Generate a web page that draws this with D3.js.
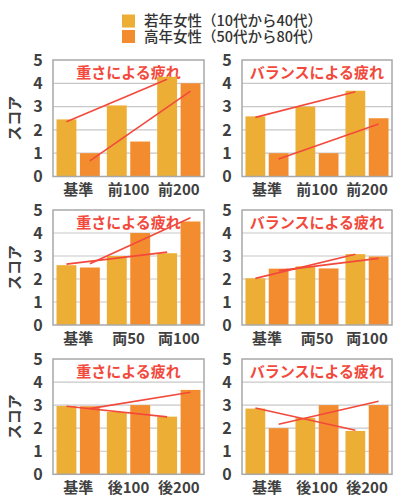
<!DOCTYPE html>
<html><head><meta charset="utf-8">
<script src="https://cdn.jsdelivr.net/npm/d3@7"></script>
<style>
html,body{margin:0;padding:0;background:#fff;}
svg{display:block;font-family:"Noto Sans CJK JP","Noto Sans",sans-serif;}
</style></head>
<body><svg id="c" width="395" height="495"></svg>
<script>
const seriesNames = ["若年女性（10代から40代）", "高年女性（50代から80代）"];
const seriesColors = ["#ECAE34", "#F38C2E"];
const panelTitles = ["重さによる疲れ", "バランスによる疲れ", "重さによる疲れ", "バランスによる疲れ", "重さによる疲れ", "バランスによる疲れ"];
const categoriesFront = ["基準", "前100", "前200"];
const categoriesBoth = ["基準", "両50", "両100"];
const categoriesBack = ["基準", "後100", "後200"];
const yTicks = [0, 1, 2, 3, 4, 5];
const yTitle = "スコア";
// values: [young, old] per panel
const weightFrontYoung = [2.45, 3.05, 4.28];
const weightFrontOld = [1.0, 1.5, 4.0];
const balanceFrontYoung = [2.58, 3.0, 3.68];
const balanceFrontOld = [1.0, 1.0, 2.5];
const weightBothYoung = [2.6, 3.0, 3.12];
const weightBothOld = [2.5, 4.0, 4.5];
const balanceBothYoung = [2.03, 2.55, 3.08];
const balanceBothOld = [2.45, 2.46, 2.98];
const weightBackYoung = [2.96, 2.7, 2.5];
const weightBackOld = [2.95, 3.0, 3.66];
const balanceBackYoung = [2.85, 2.45, 1.88];
const balanceBackOld = [2.0, 3.0, 3.0];

const panels = [
  {cats: categoriesFront, young: weightFrontYoung, old: weightFrontOld},
  {cats: categoriesFront, young: balanceFrontYoung, old: balanceFrontOld},
  {cats: categoriesBoth, young: weightBothYoung, old: weightBothOld},
  {cats: categoriesBoth, young: balanceBothYoung, old: balanceBothOld},
  {cats: categoriesBack, young: weightBackYoung, old: weightBackOld},
  {cats: categoriesBack, young: balanceBackYoung, old: balanceBackOld}
];

const colX = [[53, 204], [242, 392]];
const rowY = [[60, 176.5], [210, 325], [359, 474.3]];
const svg = d3.select("#c");
const red = "#F2493C";
const textCol = "#404040";

// legend
const lg = svg.append("g");
seriesNames.forEach((n, i) => {
  lg.append("rect").attr("x", 122).attr("y", 14.5 + i * 15.5).attr("width", 13).attr("height", 13)
    .attr("fill", seriesColors[i]);
  lg.append("text").attr("x", 144).attr("y", 21 + i * 15.5).attr("dy", "0.35em")
    .attr("font-size", 14.5).attr("font-weight", 500).attr("fill", "#333").text(n);
});

function linreg(vals) {
  const n = vals.length, xs = d3.range(n);
  const mx = d3.mean(xs), my = d3.mean(vals);
  const b = d3.sum(xs, (x, i) => (x - mx) * (vals[i] - my)) / d3.sum(xs, x => (x - mx) ** 2);
  const a = my - b * mx;
  return [a, a + b * (n - 1)];
}

panels.forEach((p, idx) => {
  const col = idx % 2, row = Math.floor(idx / 2);
  const [x0, x1] = colX[col], [yTop, yBot] = rowY[row];
  const g = svg.append("g");
  const x = d3.scaleBand().domain(p.cats).range([x0, x1]).padding(0);
  const xi = d3.scaleBand().domain([0, 1]).range([0, x.bandwidth()]).paddingInner(0.15).paddingOuter(0.15);
  const y = d3.scaleLinear().domain([0, 5]).range([yBot, yTop]);

  // gridlines
  g.append("g").selectAll("line").data(yTicks.slice(1, -1)).join("line")
    .attr("x1", x0).attr("x2", x1).attr("y1", d => y(d)).attr("y2", d => y(d))
    .attr("stroke", "#c8c8c8").attr("stroke-width", 1.2);

  // title
  g.append("text").attr("x", (x0 + x1) / 2).attr("y", yTop + 13).attr("dy", "0.36em")
    .attr("text-anchor", "middle").attr("font-size", 15).attr("font-weight", "bold")
    .attr("fill", red).text(panelTitles[idx]);

  // bars
  [p.young, p.old].forEach((vals, s) => {
    g.append("g").selectAll("rect").data(vals).join("rect")
      .attr("x", (d, i) => x(p.cats[i]) + xi(s)).attr("width", xi.bandwidth())
      .attr("y", d => y(d)).attr("height", d => yBot - y(d))
      .attr("fill", seriesColors[s]);
  });

  // frame
  g.append("rect").attr("x", x0).attr("y", yTop).attr("width", x1 - x0).attr("height", yBot - yTop)
    .attr("fill", "none").attr("stroke", "#a8a8a8").attr("stroke-width", 1.5);

  // trend lines
  [p.young, p.old].forEach((vals, s) => {
    const [a, b] = linreg(vals);
    const cx = i => x(p.cats[i]) + xi(s) + xi.bandwidth() / 2;
    g.append("line").attr("x1", cx(0)).attr("x2", cx(vals.length - 1))
      .attr("y1", y(a)).attr("y2", y(b)).attr("stroke", red).attr("stroke-width", 1.6);
  });

  // y axis labels
  g.append("g").selectAll("text").data(yTicks).join("text")
    .attr("x", x0 - 15).attr("y", d => y(d)).attr("dy", "0.36em").attr("text-anchor", "middle")
    .attr("font-size", 16).attr("font-weight", "bold").attr("fill", textCol).text(d => d);

  // x axis labels
  g.append("g").selectAll("text").data(p.cats).join("text")
    .attr("x", d => x(d) + x.bandwidth() / 2).attr("y", yBot + 13.5).attr("dy", "0.36em")
    .attr("text-anchor", "middle").attr("font-size", 15).attr("font-weight", "bold")
    .attr("fill", textCol).text(d => d);

  if (col === 0) {
    g.append("text").attr("transform", `translate(15,${(yTop + yBot) / 2}) rotate(-90)`)
      .attr("dy", "0.36em").attr("text-anchor", "middle").attr("font-size", 15)
      .attr("font-weight", "bold").attr("fill", textCol).text(yTitle);
  }
});
</script></body></html>
